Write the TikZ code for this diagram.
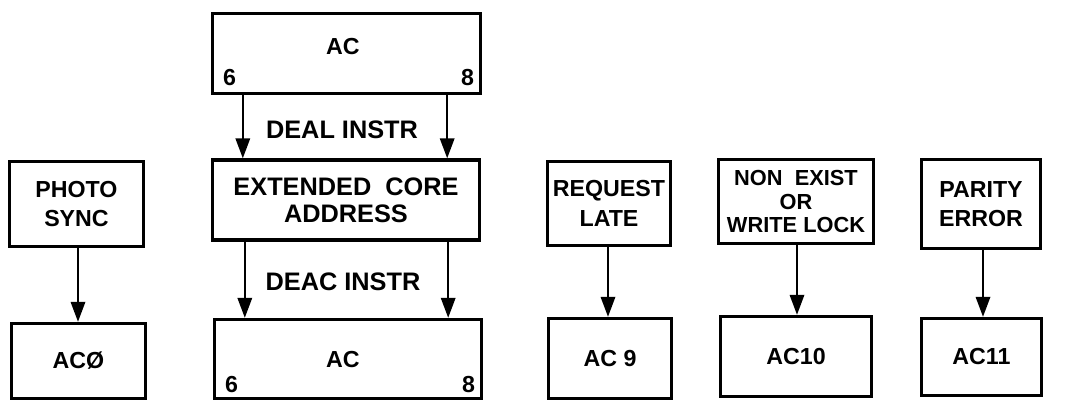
\documentclass[tikz,border=0pt]{standalone}
\usepackage{fontspec}
\setmainfont{Liberation Sans}
\usetikzlibrary{arrows.meta,positioning,calc}
\newcommand{\px}{0.025cm}

\begin{document}
\begin{tikzpicture}[x=\px,y=-\px,
    box/.style={draw,line width=2.4pt,inner sep=1pt,align=center,font=\bfseries\fontsize{16.5}{21}\selectfont},
    lbl/.style={inner sep=0pt,font=\bfseries\fontsize{16.5}{21}\selectfont},
    instr/.style={inner sep=0pt,font=\bfseries\fontsize{18}{22}\selectfont},
    arr/.style={line width=1.5pt,-{Triangle[length=5mm,width=3.6mm]}}]
  \useasboundingbox (0,0) rectangle (1086,403);

  % upper row
  \node[box,minimum width=134*\px,minimum height=85*\px] (photo) at (76.5,204) {PHOTO\\SYNC};
  \node[box,minimum width=268*\px,minimum height=80*\px] (topac) at (346.5,53.5) {};
  \node[box,minimum width=267*\px,minimum height=80*\px,font=\bfseries\fontsize{18}{19.5}\selectfont] (ecad) at (346,200) {EXTENDED~~CORE\\ADDRESS};
  \node[box,minimum width=123*\px,minimum height=84*\px] (reqlate) at (609,203.5) {REQUEST\\LATE};
  \node[box,minimum width=155*\px,minimum height=84*\px,font=\bfseries\fontsize{15.5}{16.5}\selectfont] (nonex) at (796,201.5) {NON~~EXIST\\OR\\WRITE LOCK};
  \node[box,minimum width=119*\px,minimum height=89*\px] (parity) at (981,204) {PARITY\\ERROR};

  % lower row
  \node[box,minimum width=134*\px,minimum height=75*\px] (ac0) at (78.5,361) {ACØ};
  \node[box,minimum width=267*\px,minimum height=79*\px] (botac) at (348,359) {};
  \node[box,minimum width=123*\px,minimum height=80*\px] (ac9) at (610,358.5) {AC 9};
  \node[box,minimum width=151*\px,minimum height=80*\px] (ac10) at (796,356.5) {AC10};
  \node[box,minimum width=120*\px,minimum height=77*\px] (ac11) at (981.5,357) {AC11};

  % register labels
  \node[lbl] (topacname) at (343,47) {AC};
  \node[lbl,anchor=base west] (top6) at ([shift={(12,-10)}]topac.south west) {6};
  \node[lbl,anchor=base east] (top8) at ([shift={(-8,-10)}]topac.south east) {8};
  \node[lbl] (botacname) at (343,360) {AC};
  \node[lbl,anchor=base west] (bot6) at ([shift={(12,-8)}]botac.south west) {6};
  \node[lbl,anchor=base east] (bot8) at ([shift={(-8,-8)}]botac.south east) {8};

  \node[instr] (deal) at (342,130) {DEAL INSTR};
  \node[instr] (deac) at (343,282) {DEAC INSTR};

  % transfers
  \coordinate (dealL) at ([xshift=32*\px]topac.south west);
  \coordinate (dealR) at ([xshift=-35*\px]topac.south east);
  \coordinate (deacL) at ([xshift=34*\px]ecad.south west);
  \coordinate (deacR) at ([xshift=-33*\px]ecad.south east);
  \draw[arr] (dealL) -- (dealL |- ecad.north);
  \draw[arr] (dealR) -- (dealR |- ecad.north);
  \draw[arr] (deacL) -- (deacL |- botac.north);
  \draw[arr] (deacR) -- (deacR |- botac.north);

  \draw[arr] ([xshift=1.5*\px]photo.south) -- ([xshift=1.5*\px]photo.south |- ac0.north);
  \draw[arr] ([xshift=-1*\px]reqlate.south) -- ([xshift=-1*\px]reqlate.south |- ac9.north);
  \draw[arr] ([xshift=1*\px]nonex.south) -- ([xshift=1*\px]nonex.south |- ac10.north);
  \draw[arr] ([xshift=2*\px]parity.south) -- ([xshift=2*\px]parity.south |- ac11.north);
\end{tikzpicture}
\end{document}
